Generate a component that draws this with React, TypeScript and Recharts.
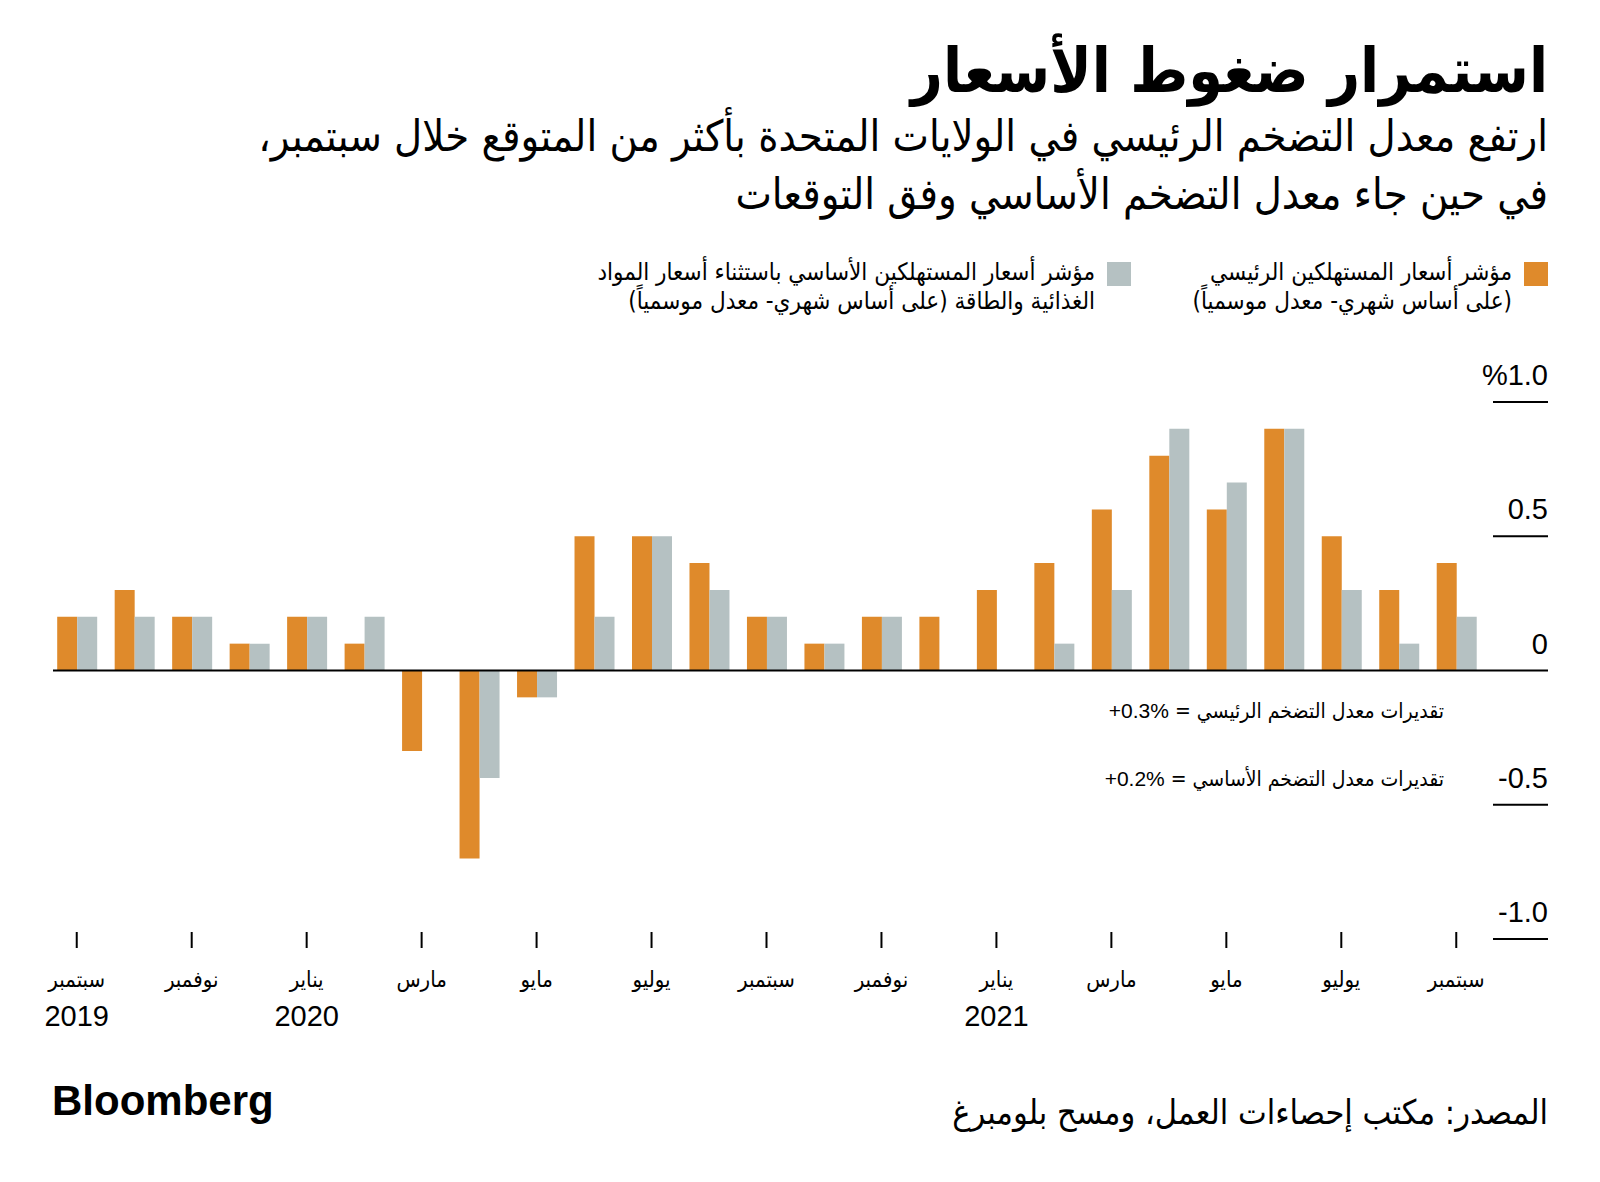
import React from "react";
import { BarChart, Bar, XAxis, YAxis } from "recharts";

const periods = [
  "2019-09", "2019-10", "2019-11", "2019-12",
  "2020-01", "2020-02", "2020-03", "2020-04", "2020-05", "2020-06",
  "2020-07", "2020-08", "2020-09", "2020-10", "2020-11", "2020-12",
  "2021-01", "2021-02", "2021-03", "2021-04", "2021-05", "2021-06",
  "2021-07", "2021-08", "2021-09",
];

const monthLabels = [
  "سبتمبر", "أكتوبر", "نوفمبر", "ديسمبر",
  "يناير", "فبراير", "مارس", "أبريل", "مايو", "يونيو",
  "يوليو", "أغسطس", "سبتمبر", "أكتوبر", "نوفمبر", "ديسمبر",
  "يناير", "فبراير", "مارس", "أبريل", "مايو", "يونيو",
  "يوليو", "أغسطس", "سبتمبر",
];

const yearLabels = [
  "2019", "", "", "",
  "2020", "", "", "", "", "",
  "", "", "", "", "", "",
  "2021", "", "", "", "", "",
  "", "", "",
];

// month-over-month, seasonally adjusted (%)
const headline = [0.2, 0.3, 0.2, 0.1, 0.2, 0.1, -0.3, -0.7, -0.1, 0.5, 0.5, 0.4, 0.2, 0.1, 0.2, 0.2, 0.3, 0.4, 0.6, 0.8, 0.6, 0.9, 0.5, 0.3, 0.4];
const core = [0.2, 0.2, 0.2, 0.1, 0.2, 0.2, 0, -0.4, -0.1, 0.2, 0.5, 0.3, 0.2, 0.1, 0.2, 0, 0, 0.1, 0.3, 0.9, 0.7, 0.9, 0.3, 0.1, 0.2];

const yTicks = [-1, -0.5, 0, 0.5, 1];
const yTickLabels = ["-1.0", "-0.5", "0", "0.5", "%1.0"];

const seriesNames = ["مؤشر أسعار المستهلكين الرئيسي", "مؤشر أسعار المستهلكين الأساسي باستثناء أسعار المواد"];
const seriesNotes = ["(على أساس شهري- معدل موسمياً)", "الغذائية والطاقة (على أساس شهري- معدل موسمياً)"];

const title = "استمرار ضغوط الأسعار";
const subtitle = [
  "ارتفع معدل التضخم الرئيسي في الولايات المتحدة بأكثر من المتوقع خلال سبتمبر،",
  "في حين جاء معدل التضخم الأساسي وفق التوقعات",
];
const estimateLabels = ["تقديرات معدل التضخم الرئيسي = ", "تقديرات معدل التضخم الأساسي = "];
const estimateValues = ["+0.3%", "+0.2%"];
const source = "المصدر: مكتب إحصاءات العمل، ومسح بلومبرغ";

const ORANGE = "#DF8A2B";
const GRAY = "#B5C1C2";
const arabicFont = "'DejaVu Sans Condensed', 'DejaVu Sans', sans-serif";
const numFont = "'Liberation Sans', Arial, sans-serif";

const data = periods.map((p, i) => ({ period: p, headline: headline[i], core: core[i] }));

const PLOT_BOTTOM = 939;
const RIGHT_EDGE = 1548;

const MonthTick = (props: any) => {
  const { x, payload } = props;
  const i = periods.indexOf(payload.value);
  return (
    <g>
      <line x1={x} x2={x} y1={PLOT_BOTTOM - 7} y2={PLOT_BOTTOM + 9} stroke="#000" strokeWidth={2} />
      <text x={x} y={PLOT_BOTTOM + 48} textAnchor="middle" fontFamily={arabicFont} fontSize={22} fill="#000">
        {monthLabels[i]}
      </text>
      {yearLabels[i] && (
        <text x={x} y={PLOT_BOTTOM + 87} textAnchor="middle" fontFamily={numFont} fontSize={29} fill="#000">
          {yearLabels[i]}
        </text>
      )}
    </g>
  );
};

const ValueTick = (props: any) => {
  const { y, payload } = props;
  const label = yTickLabels[yTicks.indexOf(payload.value)];
  return (
    <g>
      {payload.value === 0 ? (
        <line x1={53} x2={RIGHT_EDGE} y1={y} y2={y} stroke="#000" strokeWidth={2} />
      ) : (
        <line x1={1493} x2={RIGHT_EDGE} y1={y} y2={y} stroke="#000" strokeWidth={2} />
      )}
      <text x={RIGHT_EDGE} y={y - 17} textAnchor="end" fontFamily={numFont} fontSize={29} fill="#000">
        {label}
      </text>
    </g>
  );
};

const abs = (top: number, extra: React.CSSProperties = {}): React.CSSProperties => ({
  position: "absolute",
  top,
  right: 1600 - RIGHT_EDGE,
  direction: "rtl",
  whiteSpace: "nowrap",
  fontFamily: arabicFont,
  color: "#000",
  ...extra,
});

const App = () => {
  return (
    <div style={{ position: "absolute", left: 0, top: 0, width: 1600, height: 1182, background: "#fff", overflow: "hidden" }}>
      <div style={abs(34, { fontSize: 62, fontWeight: 700, lineHeight: "74px" })}>{title}</div>
      <div style={abs(111, { fontSize: 43, lineHeight: "50px" })}>{subtitle[0]}</div>
      <div style={abs(169, { fontSize: 43, lineHeight: "50px" })}>{subtitle[1]}</div>

      {/* legend */}
      {[ORANGE, GRAY].map((c, k) => {
        const sqRight = k === 0 ? 1548 : 1131;
        return (
          <React.Fragment key={k}>
            <div style={{ position: "absolute", left: sqRight - 24, top: 262, width: 24, height: 24, background: c }} />
            <div style={abs(258, { right: 1600 - (sqRight - 36), fontSize: 24, lineHeight: "29px" })}>
              <div>{seriesNames[k]}</div>
              <div>{seriesNotes[k]}</div>
            </div>
          </React.Fragment>
        );
      })}

      <div style={{ position: "absolute", left: 0, top: 0 }}>
        <BarChart
          width={1600}
          height={1182}
          data={data}
          margin={{ top: 402, right: 52, left: 48, bottom: 153 }}
          barCategoryGap="16%"
          barGap={0}
        >
          <XAxis
            dataKey="period"
            interval={1}
            axisLine={false}
            tickLine={false}
            height={90}
            tick={<MonthTick />}
          />
          <YAxis
            orientation="right"
            domain={[-1, 1]}
            ticks={yTicks}
            width={63}
            axisLine={false}
            tickLine={false}
            tick={<ValueTick />}
          />
          <Bar dataKey="headline" name={seriesNames[0]} fill={ORANGE} isAnimationActive={false} />
          <Bar dataKey="core" name={seriesNames[1]} fill={GRAY} isAnimationActive={false} />
        </BarChart>
      </div>

      {estimateLabels.map((t, k) => (
        <div key={k} style={abs(k === 0 ? 697 : 765, { right: 156, fontSize: 21, lineHeight: "28px" })}>
          {t}
          <span dir="ltr" style={{ unicodeBidi: "isolate", fontFamily: numFont }}>{estimateValues[k]}</span>
        </div>
      ))}

      <div style={abs(1092, { fontSize: 34, lineHeight: "40px" })}>{source}</div>
      <div
        style={{
          position: "absolute",
          left: 52,
          top: 1077,
          fontFamily: numFont,
          fontWeight: 700,
          fontSize: 42,
          letterSpacing: 0,
          lineHeight: "48px",
          color: "#000",
        }}
      >
        Bloomberg
      </div>
    </div>
  );
};

export default App;
